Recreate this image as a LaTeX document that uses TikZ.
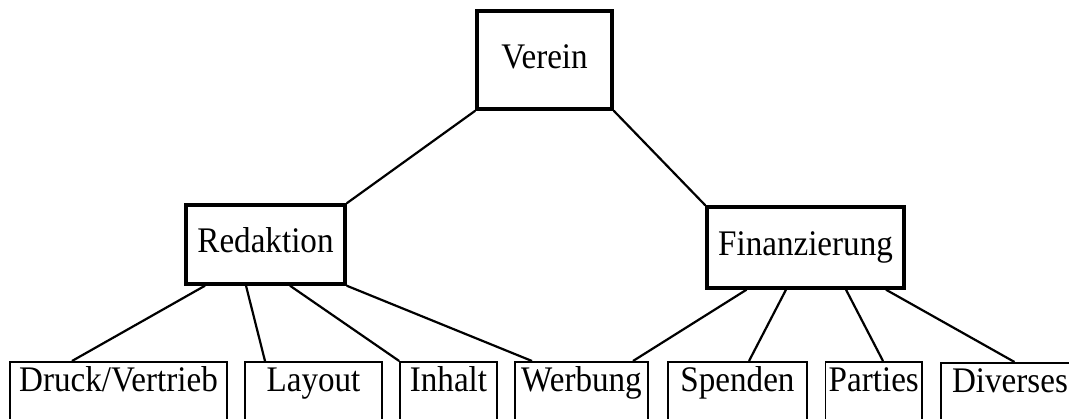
\documentclass[tikz,border=0pt]{standalone}
\usepackage{fontspec}
\setmainfont{Liberation Serif}[FakeStretch=0.92]
\begin{document}
\begin{tikzpicture}[x=1pt,y=-1pt,
  every node/.style={font=\fontsize{36}{40}\selectfont},
  topbox/.style={draw,line width=3.4pt,inner sep=0pt,text height=24pt,text depth=8pt},
  leafbox/.style={draw,line width=1.6pt,inner sep=0pt,anchor=north,text height=30pt,text depth=49pt,minimum height=79pt},
  link/.style={line width=2.2pt}]
\useasboundingbox (0,0) rectangle (1069,418);
\clip (0,0) rectangle (1069,418);
\node[topbox,minimum width=135pt,minimum height=98pt] (ver) at (544.5,60) {Verein};
\node[topbox,minimum width=159pt,minimum height=79pt] (red) at (265.5,244.5) {Redaktion};
\node[topbox,minimum width=197pt,minimum height=81pt] (fin) at (805.5,247.5) {Finanzierung};
\node[leafbox,minimum width=217pt] (dru) at (118.5,361) {Druck/Vertrieb};
\node[leafbox,minimum width=137pt] (lay) at (313.5,361) {Layout};
\node[leafbox,minimum width=97pt] (inh) at (448.5,361) {Inhalt};
\node[leafbox,minimum width=133pt] (wer) at (581.5,361) {Werbung};
\node[leafbox,minimum width=139pt] (spe) at (737.5,361) {Spenden};
\node[leafbox,minimum width=96.5pt] (par) at (873.75,361) {Parties};
\node[leafbox,minimum width=138pt] (div) at (1010,362) {Diverses};
\draw[link] (ver.south west) -- (red.north east);
\draw[link] (ver.south east) -- (fin.north west);
\draw[link] ([xshift=-60.5pt]red.south) -- ([xshift=-46.5pt]dru.north);
\draw[link] ([xshift=-19.5pt]red.south) -- ([xshift=-48.5pt]lay.north);
\draw[link] ([xshift=24.5pt]red.south) -- (inh.north west);
\draw[link] (red.south east) -- ([xshift=-49.5pt]wer.north);
\draw[link] ([xshift=-59pt]fin.south) -- ([xshift=51.5pt]wer.north);
\draw[link] ([xshift=-19.5pt]fin.south) -- ([xshift=11.5pt]spe.north);
\draw[link] ([xshift=40.5pt]fin.south) -- ([xshift=9.25pt]par.north);
\draw[link] ([xshift=80.5pt]fin.south) -- ([xshift=4.5pt]div.north);
\end{tikzpicture}
\end{document}
